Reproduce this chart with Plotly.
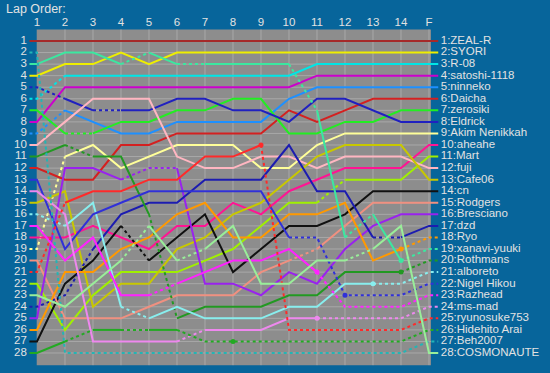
import plotly.graph_objects as go

lap_labels = [str(i) for i in range(1, 15)] + ["F"]
positions_axis = list(range(1, 29))

# final order names
driver_names = ["ZEAL-R", "SYORI", "R-08", "satoshi-1118", "ninneko", "Daicha", "zerosiki",
                "Eldrick", "Akim Nenikkah", "aheahe", "Mart", "fuji", "Cafe06", "cn",
                "Rodgers", "Bresciano", "dzd", "Ryo", "xanavi-yuuki", "Rothmans", "alboreto",
                "Nigel Hikou", "Razhead", "ms-mad", "ryunosuke753", "Hidehito Arai",
                "Beh2007", "COSMONAUTE"]

# positions at columns 1..14, F
pos_zeal_r      = [1, 1, 1, 1, 1, 1, 1, 1, 1, 1, 1, 1, 1, 1, 1]
pos_syori       = [4, 3, 3, 2, 3, 2, 2, 2, 2, 2, 2, 2, 2, 2, 2]
pos_r08         = [6, 4, 4, 4, 4, 4, 4, 4, 4, 4, 3, 3, 3, 3, 3]
pos_satoshi     = [8, 5, 5, 5, 5, 5, 5, 5, 5, 5, 4, 4, 4, 4, 4]
pos_ninneko     = [9, 7, 8, 9, 9, 8, 8, 8, 8, 6, 5, 5, 5, 5, 5]
pos_daicha      = [12, 13, 13, 10, 10, 9, 9, 9, 9, 7, 8, 7, 6, 6, 6]
pos_zerosiki    = [7, 9, 9, 8, 8, 7, 7, 6, 6, 9, 9, 8, 8, 7, 7]
pos_eldrick     = [5, 6, 7, 7, 7, 6, 6, 7, 7, 8, 6, 6, 7, 8, 8]
pos_akim        = [19, 11, 10, 12, 11, 10, 10, 10, 12, 12, 10, 9, 9, 9, 9]
pos_aheahe      = [18, 18, 17, 18, 19, 17, 17, 15, 16, 14, 13, 12, 12, 12, 10]
pos_mart        = [22, 26, 23, 21, 21, 21, 20, 19, 17, 15, 15, 13, 13, 13, 11]
pos_fuji        = [10, 8, 6, 6, 6, 11, 12, 12, 11, 11, 12, 11, 11, 11, 12]
pos_cafe06      = [15, 14, 24, 22, 22, 19, 18, 16, 15, 13, 11, 10, 10, 10, 13]
pos_cn          = [27, 22, 20, 17, 20, 18, 16, 21, 19, 17, 17, 16, 14, 14, 14]
pos_rodgers     = [20, 25, 25, 25, 24, 23, 23, 23, 21, 20, 19, 17, 15, 15, 15]
pos_bresciano   = [25, 12, 12, 13, 12, 12, 22, 22, 23, 21, 22, 19, 17, 16, 16]
pos_dzd         = [24, 23, 19, 16, 15, 15, 13, 13, 13, 10, 14, 14, 18, 18, 17]
pos_ryo         = [26, 21, 21, 19, 18, 16, 15, 18, 18, 16, 16, 15, 20, 19, 18]
pos_xanavi      = [3, 2, 2, 3, 2, 3, 3, 3, 3, 3, 7, 18, 16, 20, 19]
pos_rothmans    = [11, 10, 11, 11, 16, 25, 24, 24, 24, 23, 23, 21, 21, 21, 20]
pos_alboreto    = [16, 17, 15, 24, 25, 24, 25, 25, 25, 24, 24, 22, 22, 22, 21]
pos_nigel       = [13, 19, 16, 15, 14, 14, 14, 14, 14, 18, 18, 23, 23, 23, 22]
pos_razhead     = [17, 20, 18, 23, 23, 22, 21, 20, 20, 19, 21, 24, 24, 24, 23]
pos_ms_mad      = [14, 16, 27, 27, 27, 27, 26, 26, 26, 25, 25, 25, 25, 25, 24]
pos_ryunosuke   = [21, 15, 14, 14, 13, 13, 11, 11, 10, 26, 26, 26, 26, 26, 25]
pos_hidehito    = [28, 27, 26, 26, 26, 26, 27, 27, 27, 27, 27, 27, 27, 27, 26]
pos_beh2007     = [2, 28, 28, 28, 28, 28, 28, 28, 28, 28, 28, 28, 28, 28, 27]
pos_cosmonaute  = [23, 24, 22, 20, 17, 20, 19, 17, 22, 22, 20, 20, 19, 17, 28]

all_positions = [pos_zeal_r, pos_syori, pos_r08, pos_satoshi, pos_ninneko, pos_daicha,
                 pos_zerosiki, pos_eldrick, pos_akim, pos_aheahe, pos_mart, pos_fuji,
                 pos_cafe06, pos_cn, pos_rodgers, pos_bresciano, pos_dzd, pos_ryo,
                 pos_xanavi, pos_rothmans, pos_alboreto, pos_nigel, pos_razhead,
                 pos_ms_mad, pos_ryunosuke, pos_hidehito, pos_beh2007, pos_cosmonaute]

# styles (kept separate from data)
colors = ["#a52a2a", "#eeee00", "#00e6e6", "#cc00cc", "#1e90ff", "#d42020", "#22ee22",
          "#2020c0", "#ffff99", "#ff1493", "#a0f000", "#ffb6c1", "#c8c800", "#111111",
          "#f09080", "#9922ee", "#1c1cb0", "#ff9900", "#3be8a0", "#229922", "#88eeee",
          "#3030d8", "#ff22ff", "#ee88ee", "#ff2a2a", "#22aa22", "#22b5b5", "#99ee99"]

dotted_segments = [[], [], [0], [], [0], [], [1], [0, 2], [0], [], [10], [], [], [3],
                   [9], [3, 4], [0, 1, 12], [13], [3, 5, 9, 11, 13], [1, 4, 13],
                   [0, 3, 12, 13], [9, 10, 11, 12, 13], [4, 10, 11, 12, 13],
                   [5, 10, 11, 12, 13], [0, 8, 9, 10, 11, 12, 13],
                   [1, 3, 5, 6, 7, 8, 9, 10, 11, 12, 13], list(range(14)), [3, 5, 11]]

marker_points = [[], [], [], [], [], [], [], [], [], [], [], [], [], [], [], [], [], [13],
                 [13], [13], [12], [11], [10], [10], [8], [7], [], []]

BG = "#07659b"
PLOT_GRAY = "#8d8d8d"
GRID = "#a8a8a8"
TEXT = "#e2e2e2"
FONT = "Liberation Sans, Arial, sans-serif"
FS = 11.5

COL_W = 28.0
ROW_H = 11.556
X0_PX = 37   # px of first lap column
Y0_PX = 41   # px of position 1
W, H = 550, 373

ncol = len(lap_labels)
stub_l, stub_r = -0.27, ncol - 1 + 0.33

fig = go.Figure()

for name, pos, col, dots, mk in zip(driver_names, all_positions, colors,
                                      dotted_segments, marker_points):
    xs = [stub_l] + list(range(ncol)) + [stub_r]
    ys = [pos[0]] + pos + [pos[-1]]

    def seg_dotted(k):
        if k == 0:
            return 0 in dots
        if k == ncol:
            return (ncol - 2) in dots
        return (k - 1) in dots
    nseg = len(xs) - 1
    k = 0
    while k < nseg:
        style = seg_dotted(k)
        j = k
        while j + 1 < nseg and seg_dotted(j + 1) == style:
            j += 1
        fig.add_trace(go.Scatter(
            x=xs[k:j + 2], y=ys[k:j + 2], mode="lines",
            line=dict(color=col, width=2, dash="dot" if style else "solid"),
            hoverinfo="skip", showlegend=False))
        k = j + 1
    if mk:
        fig.add_trace(go.Scatter(
            x=mk, y=[pos[i] for i in mk], mode="markers",
            marker=dict(color=col, size=5), hoverinfo="skip", showlegend=False))

# labels
fig.add_trace(go.Scatter(
    x=list(range(ncol)), y=[-0.56] * ncol, text=lap_labels, mode="text",
    textposition="middle center", textfont=dict(color=TEXT, size=FS, family=FONT),
    hoverinfo="skip", showlegend=False, cliponaxis=False))
fig.add_trace(go.Scatter(
    x=[stub_l - 0.09] * len(positions_axis), y=positions_axis,
    text=[str(p) for p in positions_axis], mode="text",
    textposition="middle left", textfont=dict(color=TEXT, size=FS, family=FONT),
    hoverinfo="skip", showlegend=False, cliponaxis=False))
final_sorted = sorted(zip([p[-1] for p in all_positions], driver_names))
fig.add_trace(go.Scatter(
    x=[stub_r + 0.09] * len(final_sorted), y=[p for p, _ in final_sorted],
    text=[f"{p}:{n}" for p, n in final_sorted], mode="text",
    textposition="middle right", textfont=dict(color=TEXT, size=FS, family=FONT),
    hoverinfo="skip", showlegend=False, cliponaxis=False))

shapes = [dict(type="rect", xref="x", yref="y", x0=-0.01, x1=ncol - 1 + 0.07,
               y0=0.0, y1=29.05, fillcolor=PLOT_GRAY, line=dict(width=0), layer="below")]
for p in positions_axis:
    shapes.append(dict(type="line", xref="x", yref="y", x0=-0.01, x1=ncol - 1 + 0.07,
                       y0=p, y1=p, line=dict(color=GRID, width=1), layer="below"))
for c in range(1, ncol):
    shapes.append(dict(type="line", xref="x", yref="y", x0=c, x1=c, y0=0.0, y1=29.05,
                       line=dict(color=GRID, width=1), layer="below"))

fig.update_layout(
    width=W, height=H, margin=dict(l=0, r=0, t=0, b=0, pad=0, autoexpand=False),
    paper_bgcolor=BG, plot_bgcolor=BG, shapes=shapes,
    xaxis=dict(range=[-X0_PX / COL_W, (W - X0_PX) / COL_W], visible=False,
               fixedrange=True),
    yaxis=dict(range=[1 + (H - Y0_PX) / ROW_H, 1 - Y0_PX / ROW_H], visible=False,
               fixedrange=True),
    annotations=[dict(text="Lap Order:", xref="paper", yref="paper", x=4 / W,
                      y=1 - 9 / H, xanchor="left", yanchor="middle", showarrow=False,
                      font=dict(color=TEXT, size=12.5, family=FONT))],
)

fig.write_html(
    "out.html", config={"displayModeBar": False},
    post_script="document.body.style.margin='0';document.body.style.padding='0';"
                "document.body.style.background='" + BG + "';")
